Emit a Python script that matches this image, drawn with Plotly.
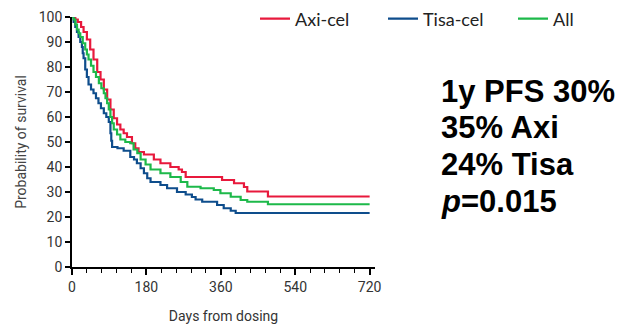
import plotly.graph_objects as go

# ---- data ----
axi_days = [0, 8, 14, 22, 28, 36, 44, 52, 61, 69, 77, 85, 93, 101, 109, 117, 125, 133, 145, 153, 161,
            174, 198, 214, 238, 258, 266, 275, 363, 392, 416, 424, 474, 720]
axi_surv = [100, 99, 98, 96, 94, 91, 87, 83, 78, 75, 71, 67, 63, 59.5, 57, 55, 53.5, 52, 49.5, 47.5, 46,
            45, 43, 41.5, 40, 39, 38, 36, 34.8, 33.5, 32, 30.2, 28.2, 28.2]

tisa_days = [0, 4, 8, 12, 16, 20, 24, 26, 28, 32, 36, 40, 46, 52, 58, 64, 70, 77, 83, 89, 93, 95, 97,
             110, 125, 141, 150, 157, 166, 174, 182, 190, 214, 230, 254, 275, 290, 299, 315, 351, 367,
             384, 396, 720]
tisa_surv = [100, 98, 96, 94, 92, 90, 88, 85.5, 83.5, 79, 76, 73, 71, 69.5, 67.5, 65.5, 63.5, 61.5, 60,
             58, 53.5, 50.5, 48, 47.5, 46.5, 44, 43, 41.5, 39.5, 37.5, 35.5, 34, 32.8, 31.5, 30, 29, 28,
             27, 26.1, 24.8, 23.5, 22.5, 21.6, 21.6]

all_days = [0, 4, 8, 12, 16, 20, 26, 32, 36, 40, 46, 52, 58, 65, 71, 77, 81, 85, 89, 93, 97, 101, 109,
            117, 129, 141, 149, 158, 166, 178, 190, 214, 238, 263, 279, 311, 343, 359, 384, 408, 424,
            474, 720]
all_surv = [100, 99, 97, 95, 93.5, 92, 89.5, 87, 85, 83, 80.5, 78, 76, 73.5, 71.5, 69.5, 67.5, 65.5, 63,
            60, 57.5, 55, 53, 51, 50, 49.5, 47, 45.5, 43, 41, 39, 37.5, 36, 34, 32.1, 31.5, 30.8, 29.5,
            28.1, 26.8, 26.1, 25.1, 25.1]

series_names = ["Axi-cel", "Tisa-cel", "All"]
series_colors = ["#e8193c", "#0e4d8c", "#1db94a"]

x_ticks = [0, 180, 360, 540, 720]
y_ticks = [0, 10, 20, 30, 40, 50, 60, 70, 80, 90, 100]

annot_lines = ["1y PFS 30%", "35% Axi", "24% Tisa", "<i>p</i>=0.015"]

# ---- figure ----
W, H = 623, 326
ML, MT, MB = 72, 17, 59
PW = 303
MR = W - ML - PW
PH = H - MT - MB

FONT = "Roboto, sans-serif"

legend_ids = ["legend", "legend2", "legend3"]
legend_left_px = [255, 383, 513]

fig = go.Figure()
for d, s, name, col, lg in zip([axi_days, tisa_days, all_days], [axi_surv, tisa_surv, all_surv],
                               series_names, series_colors, legend_ids):
    fig.add_trace(go.Scatter(x=d, y=s, mode="lines", name=name, legend=lg,
                             line=dict(color=col, width=2.2, shape="hv")))

tickfont = dict(family=FONT, size=14, color="#333333")
fig.update_xaxes(range=[0, 733], tickvals=x_ticks, ticks="outside", ticklen=6, tickwidth=1.5,
                 tickcolor="black", showline=True, linecolor="black", linewidth=1.8,
                 showgrid=False, zeroline=False, tickfont=tickfont,
                 minor=dict(dtick=36, tick0=0, ticks="outside", ticklen=4, tickwidth=1.3,
                            tickcolor="black", showgrid=False),
                 title=dict(text="Days from dosing", standoff=17,
                            font=dict(family=FONT, size=14, color="#333333")))
fig.update_yaxes(range=[0, 100], tickvals=y_ticks, ticks="outside", ticklen=5, tickwidth=1.5,
                 tickcolor="black", showline=True, linecolor="black", linewidth=1.8,
                 showgrid=False, zeroline=False, tickfont=tickfont,
                 title=dict(text="Probability of survival", standoff=9,
                            font=dict(family=FONT, size=14, color="#444444")))

for i, t in enumerate(annot_lines):
    ypx = 91 + i * 36.7
    fig.add_annotation(text="<b>" + t + "</b>", xref="paper", yref="paper", x=(439 - ML) / PW,
                       y=(H - MB - ypx) / PH, xanchor="left", yanchor="middle", showarrow=False,
                       font=dict(family="Liberation Sans, Arial, sans-serif", size=31, color="black"))

legend_font = dict(family="Lato, Open Sans, sans-serif", size=18, color="#222222")
layout_legends = {}
for lg, lx in zip(legend_ids, legend_left_px):
    layout_legends[lg] = dict(orientation="h", x=(lx - ML) / PW, y=(H - MB - 19) / PH,
                              xanchor="left", yanchor="middle", font=legend_font,
                              bgcolor="rgba(0,0,0,0)")

fig.update_layout(
    width=W, height=H, margin=dict(l=ML, r=MR, t=MT, b=MB, autoexpand=False),
    plot_bgcolor="white", paper_bgcolor="white",
    showlegend=True,
    **layout_legends,
)

fig.write_html("out.html")
